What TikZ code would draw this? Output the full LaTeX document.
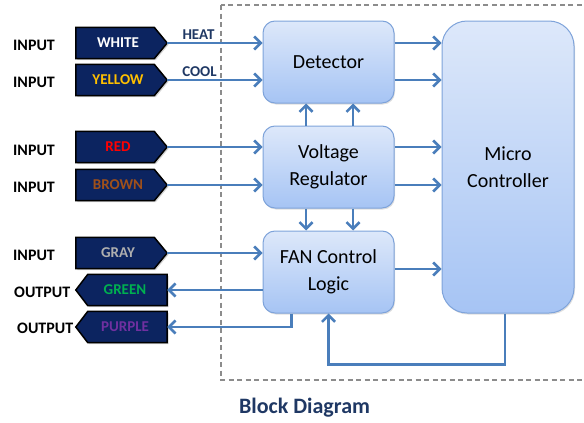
\documentclass[tikz,border=0pt]{standalone}
\usepackage{fontspec}
\setmainfont{Carlito}
\usetikzlibrary{arrows.meta,shadows,backgrounds}
\definecolor{arr}{HTML}{4A7EBB}
\definecolor{navy}{HTML}{0C2460}
\definecolor{ttl}{HTML}{1F3864}
\definecolor{bord}{HTML}{7EA3DA}
\definecolor{gtop}{HTML}{DDE8FA}
\definecolor{gbot}{HTML}{A6C4F4}
\definecolor{cyel}{HTML}{FFC000}
\definecolor{cred}{HTML}{FF0000}
\definecolor{cbrown}{HTML}{A0501A}
\definecolor{cgray}{HTML}{AFAFAF}
\definecolor{cgreen}{HTML}{00B050}
\definecolor{cpurple}{HTML}{7030A0}
\tikzset{
  blk/.style={draw=bord, line width=1pt, rounded corners=12pt, top color=gtop, bottom color=gbot,
    minimum width=131pt, minimum height=82pt, align=center, inner sep=0pt,
    font=\fontsize{20}{27}\selectfont, drop shadow={opacity=0.25, shadow xshift=1pt, shadow yshift=-1.5pt}},
  tagtxt/.style={minimum width=84pt, minimum height=31pt, inner sep=0pt, font=\bfseries\fontsize{15}{18}\selectfont},
  tagshape/.style={draw=black, line width=1.5pt, fill=navy, line join=miter,
    drop shadow={opacity=0.35, shadow xshift=1.5pt, shadow yshift=-1.5pt}},
  io/.style={font=\bfseries\fontsize{16}{19}\selectfont, anchor=west, inner sep=0pt},
  wire/.style={draw=arr, line width=2.6pt, -{Straight Barb[length=6.5pt,width=13pt,line width=2.6pt]}},
  lbl/.style={text=ttl, font=\bfseries\fontsize{15}{18}\selectfont, inner sep=0pt}
}
\newcommand\tagIn[1]{\filldraw[tagshape] (#1.north west) -- ([xshift=-6pt]#1.north east) -- ([xshift=7pt]#1.east) -- ([xshift=-6pt]#1.south east) -- (#1.south west) -- cycle;}
\newcommand\tagOut[1]{\filldraw[tagshape] (#1.north east) -- ([xshift=5pt]#1.north west) -- ([xshift=-7pt]#1.west) -- ([xshift=5pt]#1.south west) -- (#1.south east) -- cycle;}
\begin{document}
\begin{tikzpicture}[x=1pt,y=-1pt]
\useasboundingbox (0,0) rectangle (584,423);
\clip (0,0) rectangle (584,423);
\draw[draw=gray!90, line width=1.2pt, dash pattern=on 5pt off 3.5pt] (221,5) rectangle (600,380);

\node[blk] (det) at (328.5,62) {Detector};
\node[blk] (vr) at (328.5,167) {Voltage\\Regulator};
\node[blk] (fan) at (328.5,272) {FAN Control\\Logic};
\node[blk, minimum width=132pt, minimum height=292pt, rounded corners=25pt] (mc) at (508,167) {Micro\\Controller};

\node[tagtxt, text=white] (white) at (118,43) {WHITE};
\node[tagtxt, text=cyel] (yellow) at (118,80) {YELLOW};
\node[tagtxt, text=cred] (red) at (118,147) {RED};
\node[tagtxt, text=cbrown] (brown) at (118,185) {BROWN};
\node[tagtxt, text=cgray] (gray) at (118,253) {GRAY};
\node[tagtxt, text=cgreen] (green) at (125,290) {GREEN};
\node[tagtxt, text=cpurple] (purple) at (125,327) {PURPLE};
\begin{scope}[on background layer]
\tagIn{white}\tagIn{yellow}\tagIn{red}\tagIn{brown}\tagIn{gray}
\tagOut{green}\tagOut{purple}
\end{scope}

\node[io] (i1) at (13,45) {INPUT};
\node[io] (i2) at (13,82) {INPUT};
\node[io] (i3) at (13,150) {INPUT};
\node[io] (i4) at (13,187) {INPUT};
\node[io] (i5) at (13,255) {INPUT};
\node[io] (o1) at (14,292) {OUTPUT};
\node[io] (o2) at (17,328) {OUTPUT};

\node[lbl] (heat) at (198.5,35) {HEAT};
\node[lbl] (cool) at (199.5,72) {COOL};

\node[text=ttl, font=\bfseries\fontsize{22}{26}\selectfont, inner sep=0pt] (title) at (304.5,408) {Block Diagram};

\draw[wire] ([xshift=7pt]white.east) -- (white.east -| det.west);
\draw[wire] ([xshift=7pt]yellow.east) -- (yellow.east -| det.west);
\draw[wire] ([xshift=7pt]red.east) -- (red.east -| vr.west);
\draw[wire] ([xshift=7pt]brown.east) -- (brown.east -| vr.west);
\draw[wire] ([xshift=7pt]gray.east) -- (gray.east -| fan.west);
\draw[wire] (green.east -| fan.west) -- (green.east);
\draw[wire] ([xshift=-37pt]fan.south) |- (purple.east);

\draw[wire] (white.east -| det.east) -- (white.east -| mc.west);
\draw[wire] (yellow.east -| det.east) -- (yellow.east -| mc.west);
\draw[wire] (red.east -| vr.east) -- (red.east -| mc.west);
\draw[wire] (brown.east -| vr.east) -- (brown.east -| mc.west);
\draw[wire] ([yshift=3pt]fan.east) -- ([yshift=3pt]fan.east -| mc.west);

\draw[wire] ([xshift=-22.5pt]vr.north) -- ([xshift=-22.5pt]det.south);
\draw[wire] ([xshift=24.5pt]vr.north) -- ([xshift=24.5pt]det.south);
\draw[wire] ([xshift=-22.5pt]vr.south) -- ([xshift=-22.5pt]fan.north);
\draw[wire] ([xshift=24.5pt]vr.south) -- ([xshift=24.5pt]fan.north);

\draw[wire] ([xshift=-3pt]mc.south) -- ++(0,51) -| (fan.south);
\end{tikzpicture}
\end{document}
